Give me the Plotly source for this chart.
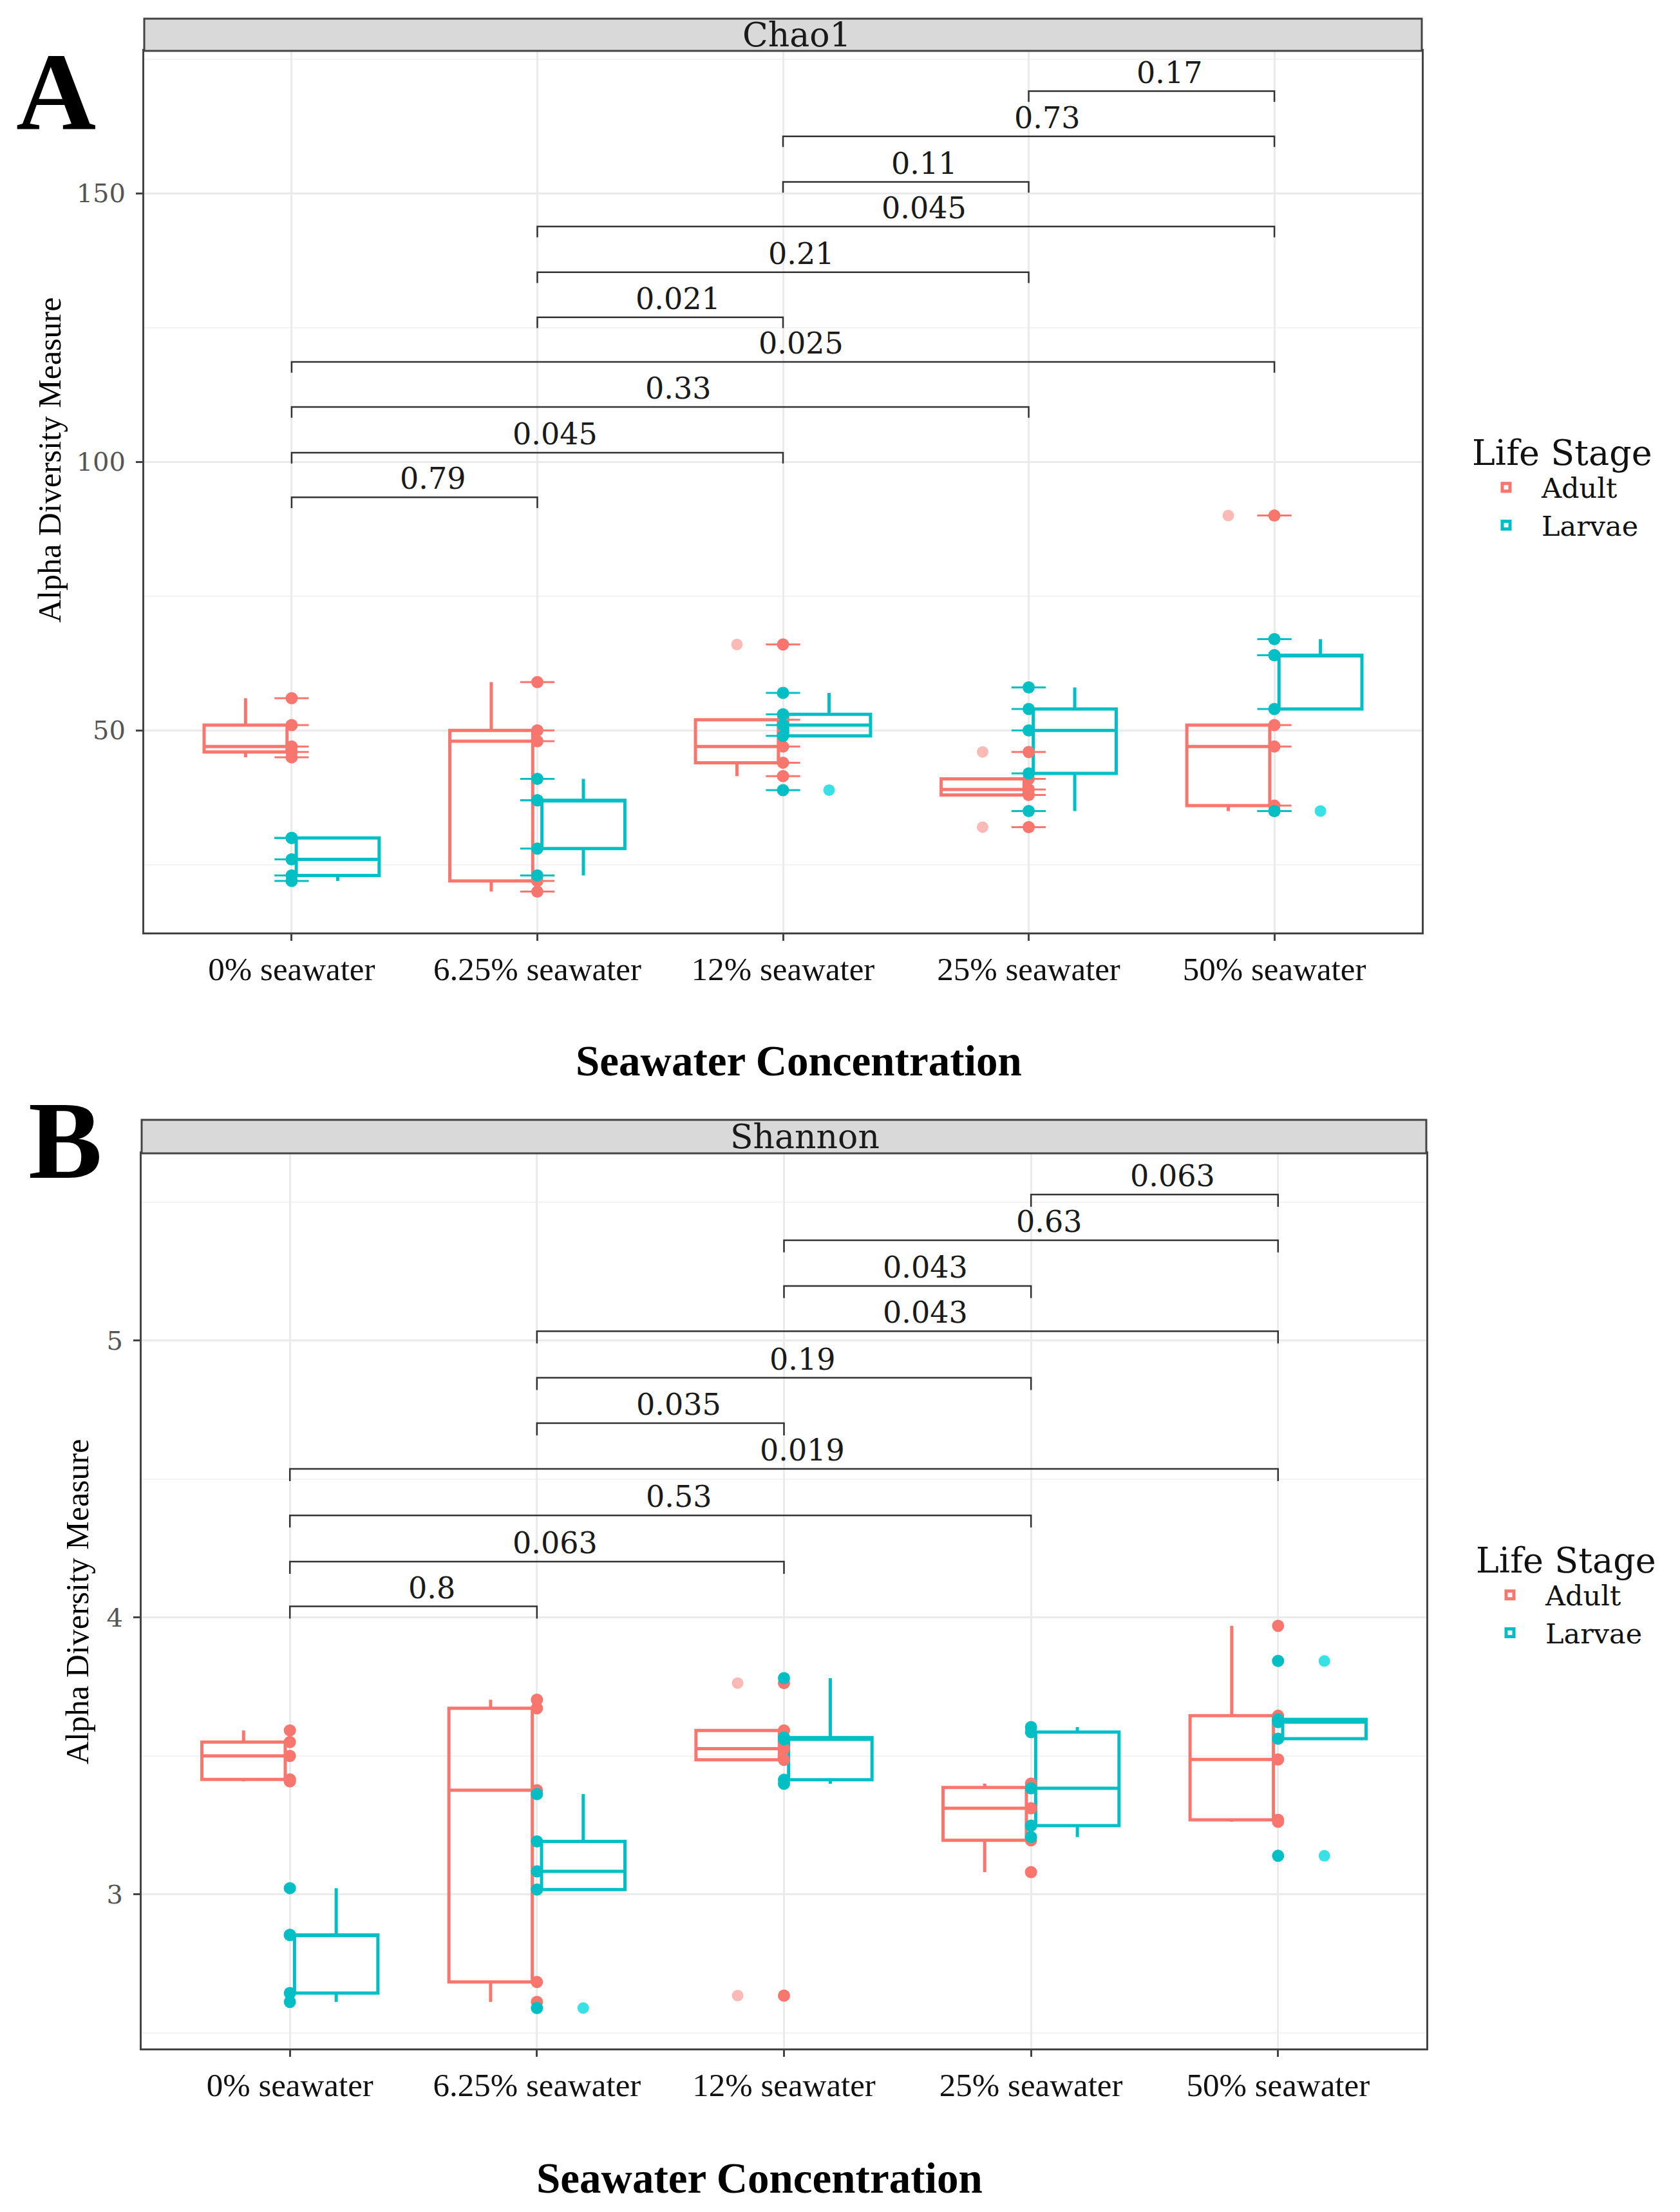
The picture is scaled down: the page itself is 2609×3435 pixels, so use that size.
import plotly.graph_objects as go

W, H = 2609, 3435

# ---------------- data ----------------
categories = ["0% seawater", "6.25% seawater", "12% seawater", "25% seawater", "50% seawater"]
cat_idx = [1, 2, 3, 4, 5]

# Chao1 (panel A) - individual samples (drawn at category centre)
chao_adult_pts = [[45, 46, 47, 51, 56], [20, 22, 48, 50, 59], [41.5, 44, 47, 52, 66],
                  [32, 38, 39, 41, 46], [35, 36, 47, 51, 90]]
chao_larvae_pts = [[22, 23, 26, 30, 30], [23, 28, 37, 37, 41], [38.9, 49, 51, 53, 57],
                   [35, 42, 50, 54, 58], [35, 54, 64, 64, 67]]
# Chao1 box statistics
chao_adult_q1 = [46, 22, 44, 38, 36]
chao_adult_med = [47, 48, 47, 39, 47]
chao_adult_q3 = [51, 50, 52, 41, 51]
chao_adult_lo = [45, 20, 41.5, 38, 35]
chao_adult_hi = [56, 59, 52, 41, 51]
chao_larvae_q1 = [23, 28, 49, 42, 54]
chao_larvae_med = [26, 37, 51, 50, 64]
chao_larvae_q3 = [30, 37, 53, 54, 64]
chao_larvae_lo = [22, 23, 49, 35, 54]
chao_larvae_hi = [30, 41, 57, 58, 67]
# Chao1 outliers (category index, value)
chao_adult_out_cat = [3, 4, 4, 5]
chao_adult_out_val = [66, 46, 32, 90]
chao_larvae_out_cat = [3, 5]
chao_larvae_out_val = [38.9, 35]

# Shannon (panel B)
sh_adult_pts = [[3.408, 3.415, 3.50, 3.55, 3.592], [2.611, 2.683, 3.376, 3.672, 3.703],
                [2.634, 3.486, 3.526, 3.592, 3.763], [3.08, 3.195, 3.311, 3.386, 3.40],
                [3.262, 3.269, 3.487, 3.645, 3.970]]
sh_larvae_pts = [[2.611, 2.643, 2.853, 2.853, 3.022], [2.589, 3.017, 3.083, 3.191, 3.362],
                 [3.399, 3.414, 3.560, 3.566, 3.781], [3.207, 3.248, 3.383, 3.586, 3.604],
                 [3.139, 3.562, 3.622, 3.632, 3.843]]
sh_adult_q1 = [3.415, 2.683, 3.486, 3.195, 3.269]
sh_adult_med = [3.50, 3.376, 3.526, 3.311, 3.487]
sh_adult_q3 = [3.55, 3.672, 3.592, 3.386, 3.645]
sh_adult_lo = [3.408, 2.611, 3.486, 3.08, 3.262]
sh_adult_hi = [3.592, 3.703, 3.592, 3.40, 3.97]
sh_larvae_q1 = [2.643, 3.017, 3.414, 3.248, 3.562]
sh_larvae_med = [2.853, 3.083, 3.560, 3.383, 3.622]
sh_larvae_q3 = [2.853, 3.191, 3.566, 3.586, 3.632]
sh_larvae_lo = [2.611, 3.017, 3.399, 3.207, 3.562]
sh_larvae_hi = [3.022, 3.362, 3.781, 3.604, 3.632]
sh_adult_out_cat = [3, 3]
sh_adult_out_val = [2.634, 3.763]
sh_larvae_out_cat = [2, 5, 5]
sh_larvae_out_val = [2.589, 3.139, 3.843]

# significance brackets
br_from = [1, 1, 1, 1, 2, 2, 2, 3, 3, 4]
br_to = [2, 3, 4, 5, 3, 4, 5, 4, 5, 5]
chao_br_level = [93.4, 101.7, 110.2, 118.6, 126.9, 135.3, 143.8, 152.1, 160.6, 169.0]
chao_br_label = ["0.79", "0.045", "0.33", "0.025", "0.021", "0.21", "0.045", "0.11", "0.73", "0.17"]
sh_br_level = [4.040, 4.202, 4.369, 4.537, 4.702, 4.866, 5.034, 5.198, 5.363, 5.528]
sh_br_label = ["0.8", "0.063", "0.53", "0.019", "0.035", "0.19", "0.043", "0.043", "0.63", "0.063"]

chao_yticks = [50, 100, 150]
chao_yminor = [25, 75, 125, 175]
sh_yticks = [3, 4, 5]
sh_yminor = [2.5, 3.5, 4.5, 5.5]

# ---------------- style ----------------
C_AD = "#F8766D"
C_LA = "#00BFC4"
C_AD_OUT = "rgba(248,118,109,0.5)"
C_LA_OUT = "rgba(20,220,226,0.85)"
DODGE = 0.1875
BOXW = 0.3375
SERIF = "Liberation Serif"
WIDE = "DejaVu Serif"


def px(x):
    return x / W


def py(y):
    return 1 - y / H


fig = go.Figure()


def add_panel(xa, ya, leg, ad_pts, la_pts, ad_stats, la_stats, ad_out, la_out,
              levels, labels, tick_depth, bars):
    # boxes
    for name, stats, col, off in [("Adult", ad_stats, C_AD, -DODGE), ("Larvae", la_stats, C_LA, DODGE)]:
        q1, med, q3, lo, hi = stats
        fig.add_trace(go.Box(
            x=[c + off for c in cat_idx], q1=q1, median=med, q3=q3,
            lowerfence=lo, upperfence=hi, width=BOXW, name=name,
            line=dict(color=col, width=5), fillcolor="rgba(255,255,255,0)",
            whiskerwidth=0, boxpoints=False, xaxis=xa, yaxis=ya, legend=leg,
            hoverinfo="skip"))
    # outliers (at box centre)
    for (cats, vals), col, off in [(ad_out, C_AD_OUT, -DODGE), (la_out, C_LA_OUT, DODGE)]:
        fig.add_trace(go.Scatter(
            x=[c + off for c in cats], y=vals, mode="markers",
            marker=dict(color=col, size=18, line=dict(width=0)),
            xaxis=xa, yaxis=ya, showlegend=False, hoverinfo="skip"))
    # all points at category centre
    for pts, col in [(ad_pts, C_AD), (la_pts, C_LA)]:
        xs, ys = [], []
        for c, vals in zip(cat_idx, pts):
            for v in vals:
                xs.append(c)
                ys.append(v)
        if bars:
            fig.add_trace(go.Scatter(
                x=xs, y=ys, mode="markers",
                marker=dict(symbol="line-ew", size=38, line=dict(color=col, width=3)),
                xaxis=xa, yaxis=ya, showlegend=False, hoverinfo="skip"))
        fig.add_trace(go.Scatter(
            x=xs, y=ys, mode="markers",
            marker=dict(color=col, size=19, line=dict(width=0)),
            xaxis=xa, yaxis=ya, showlegend=False, hoverinfo="skip"))
    # brackets
    bx, by = [], []
    for a, b, lv in zip(br_from, br_to, levels):
        bx += [a, a, b, b, None]
        by += [lv - tick_depth, lv, lv, lv - tick_depth, None]
    fig.add_trace(go.Scatter(x=bx, y=by, mode="lines",
                             line=dict(color="#333333", width=2.5),
                             xaxis=xa, yaxis=ya, showlegend=False, hoverinfo="skip"))
    for a, b, lv, lab in zip(br_from, br_to, levels, labels):
        fig.add_annotation(x=(a + b) / 2, y=lv, xref=xa, yref=ya, text=lab,
                           showarrow=False, yshift=29, xshift=28,
                           xanchor="center", yanchor="middle",
                           font=dict(family=WIDE, size=46, color="#1a1a1a"))


add_panel("x", "y", "legend", chao_adult_pts, chao_larvae_pts,
          (chao_adult_q1, chao_adult_med, chao_adult_q3, chao_adult_lo, chao_adult_hi),
          (chao_larvae_q1, chao_larvae_med, chao_larvae_q3, chao_larvae_lo, chao_larvae_hi),
          (chao_adult_out_cat, chao_adult_out_val), (chao_larvae_out_cat, chao_larvae_out_val),
          chao_br_level, chao_br_label, 2.0, True)
add_panel("x2", "y2", "legend2", sh_adult_pts, sh_larvae_pts,
          (sh_adult_q1, sh_adult_med, sh_adult_q3, sh_adult_lo, sh_adult_hi),
          (sh_larvae_q1, sh_larvae_med, sh_larvae_q3, sh_larvae_lo, sh_larvae_hi),
          (sh_adult_out_cat, sh_adult_out_val), (sh_larvae_out_cat, sh_larvae_out_val),
          sh_br_level, sh_br_label, 0.044, False)

common_x = dict(range=[0.4, 5.6], tickvals=cat_idx, ticktext=categories,
                showgrid=True, gridcolor="#EBEBEB", gridwidth=2.5, zeroline=False,
                showline=True, mirror=True, linecolor="#444444", linewidth=3,
                ticks="outside", ticklen=10, tickwidth=2.5, tickcolor="#444444",
                ticklabelstandoff=0,
                tickfont=dict(family=SERIF, size=51, color="#111111"))
common_y = dict(showgrid=True, gridcolor="#EBEBEB", gridwidth=2.5, zeroline=False,
                showline=True, mirror=True, linecolor="#444444", linewidth=3,
                ticks="outside", ticklen=10, tickwidth=2.5, tickcolor="#444444",
                ticklabelstandoff=8,
                tickfont=dict(family=WIDE, size=40, color="#555555"))

legend_common = dict(xanchor="left", yanchor="top",
                     title=dict(text="Life Stage", font=dict(family=WIDE, size=54, color="#111111")),
                     font=dict(family=WIDE, size=43, color="#111111"),
                     bgcolor="rgba(0,0,0,0)", tracegroupgap=0, itemwidth=100)

fig.update_layout(
    width=W, height=H, margin=dict(l=0, r=0, t=0, b=0),
    paper_bgcolor="white", plot_bgcolor="white", showlegend=True,
    xaxis=dict(domain=[px(224), px(2208)], anchor="y", **common_x),
    yaxis=dict(domain=[py(1448), py(79)], anchor="x", range=[12.4, 176.5],
               tickvals=chao_yticks,
               minor=dict(tickvals=chao_yminor, showgrid=True, gridcolor="#F3F3F3",
                          gridwidth=1.5, ticks=""),
               **common_y),
    xaxis2=dict(domain=[px(220), px(2215)], anchor="y2", **common_x),
    yaxis2=dict(domain=[py(3181), py(1791)], anchor="x2", range=[2.443, 5.677],
                tickvals=sh_yticks,
                minor=dict(tickvals=sh_yminor, showgrid=True, gridcolor="#F3F3F3",
                           gridwidth=1.5, ticks=""),
                **common_y),
    legend=dict(x=px(2284), y=py(652), **legend_common),
    legend2=dict(x=px(2290), y=py(2372), **legend_common),
)

# strips
fig.add_shape(type="rect", xref="paper", yref="paper", x0=px(224), x1=px(2208),
              y0=py(79), y1=py(29), fillcolor="#D9D9D9", line=dict(color="#444444", width=3))
fig.add_shape(type="rect", xref="paper", yref="paper", x0=px(220), x1=px(2215),
              y0=py(1791), y1=py(1739), fillcolor="#D9D9D9", line=dict(color="#444444", width=3))


def label(x, y, text, size, family, color="#000000", angle=0):
    fig.add_annotation(x=px(x), y=py(y), xref="paper", yref="paper", text=text,
                       showarrow=False, xanchor="center", yanchor="middle",
                       textangle=angle, font=dict(family=family, size=size, color=color))


label(1237, 54, "Chao1", 52, WIDE, "#1a1a1a")
label(1250, 1765, "Shannon", 52, WIDE, "#1a1a1a")

# axis titles
label(1240, 1647, "<b>Seawater Concentration</b>", 67, SERIF)
label(1179, 3382, "<b>Seawater Concentration</b>", 67, SERIF)
label(77, 715, "Alpha Diversity Measure", 50, SERIF, angle=-90)
label(120, 2488, "Alpha Diversity Measure", 50, SERIF, angle=-90)

# panel letters
label(87, 143, "<b>A</b>", 172, SERIF)
label(101, 1771, "<b>B</b>", 172, SERIF)

fig.write_html("out.html", config={"displayModeBar": False},
               post_script="document.body.style.margin='0';")
